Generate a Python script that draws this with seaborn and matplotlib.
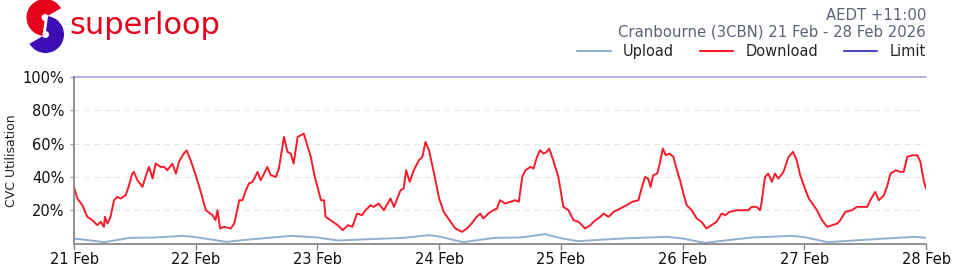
import numpy as np
import pandas as pd
import matplotlib
matplotlib.use("Agg")
import matplotlib.pyplot as plt
from matplotlib.patches import Wedge
import seaborn as sns

# ---------------- data ----------------
day_labels = ["21 Feb", "22 Feb", "23 Feb", "24 Feb", "25 Feb", "26 Feb", "27 Feb", "28 Feb"]
y_tick_values = [20, 40, 60, 80, 100]
y_tick_labels = ["20%", "40%", "60%", "80%", "100%"]

# hours since 21 Feb 00:00 and utilisation (%)
download_hours = [
    0, 0.66, 1.64, 2.63, 3.62, 4.6, 5.26, 5.9, 6.1, 6.6, 7.2, 7.9, 8.55, 9.2, 10.2, 10.85, 11.5, 11.8,
    12.5, 13.5, 14.1, 14.8, 15.5, 16.1, 17.1, 17.8, 18.4, 19.4, 20.1, 20.7, 21.4, 22.2, 23.0,
    24.0, 25.0, 26.0, 27.3, 27.9, 28.3, 28.8, 29.6, 30.9, 31.6, 32.6, 33.2, 33.9, 34.5, 35.2, 36.2,
    36.8, 37.5, 38.1, 38.8, 39.8, 40.4, 41.4, 42.1, 42.75, 43.3, 44.1, 44.7, 45.3, 46.1, 46.7, 47.4,
    48.0, 48.7, 49.3, 49.6, 50.6, 52.0, 53.0, 54.0, 54.9, 55.8, 56.8, 57.5, 58.5, 59.1, 60.1, 61.1,
    62.4, 63.1, 64.4, 65.0, 65.5, 66.2, 67.0, 68.0, 68.7, 69.3, 70.0, 71.0,
    72.0, 72.9, 73.8, 75.2, 76.5, 77.5, 78.4, 79.4, 80.1, 80.7, 81.7, 82.7, 83.4, 84.0, 85.0, 86.0,
    87.0, 87.7, 88.4, 89.0, 90.0, 90.6, 91.3, 91.9, 92.6, 93.2, 93.7, 94.5, 95.5,
    96.0, 96.5, 97.5, 98.5, 99.5, 100.8, 101.8, 102.8, 103.8, 104.4, 105.4, 106.4, 107.7, 109.0,
    110.0, 111.3, 111.9, 112.6, 113.2, 113.7, 114.2, 115.0, 115.5, 116.1, 116.7, 117.4, 118.2,
    118.8, 119.5,
    120.0, 120.8, 121.8, 122.8, 123.75, 124.7, 125.7, 126.7, 127.7, 128.4, 129.3, 130.7, 132.0,
    133.0, 133.6, 134.6, 135.3, 135.6, 136.25, 136.9, 137.6, 138.2, 138.9, 139.9, 140.9, 141.8,
    142.5, 143.2,
    144.0, 144.9, 145.8, 146.5, 147.5, 148.5, 149.5, 150.5, 151.1, 152.1, 153.4, 154.4, 155.4,
    156.4, 157.0, 158.0, 158.7, 159.7, 160.4, 161.0, 162.0, 163.0, 163.6, 164.3, 165.3, 166.3,
    166.9, 167.6, 168.0,
]
download_pct = [
    34, 27, 23, 16, 14, 11, 13, 10, 16, 12, 16, 26, 28, 27, 29, 35, 42, 43,
    38, 34, 40, 46, 39, 48, 46, 46, 44, 48, 42, 49, 53, 56, 50,
    41, 31, 20, 17, 14, 20, 9, 10, 9, 12, 26, 26, 32, 36, 37, 43,
    38, 42, 46, 41, 40, 45, 64, 55, 54, 48, 64, 65, 66, 58, 52, 41,
    34, 26, 26, 16, 14, 11, 8, 11, 10, 18, 17, 20, 23, 22, 24, 20,
    27, 22, 32, 33, 44, 37, 44, 50, 52, 61, 56, 42,
    27, 19, 15, 9, 7, 9, 12, 16, 18, 15, 18, 20, 21, 26, 24, 25,
    26, 25, 40, 44, 46, 45, 52, 56, 54, 55, 57, 50, 40,
    31, 22, 20, 14, 13, 9, 11, 14, 16, 18, 16, 19, 21, 23,
    25, 26, 33, 40, 39, 34, 41, 42, 48, 57, 53, 54, 52,
    45, 38,
    32, 23, 20, 15, 13, 9, 11, 13, 18, 17, 19, 20, 20,
    20, 22, 22, 20, 25, 40, 42, 37, 42, 39, 43, 52, 55,
    50, 41,
    34, 27, 23, 20, 14, 10, 11, 12, 14, 19, 20, 22, 22,
    22, 26, 31, 26, 29, 35, 42, 44, 43, 43, 52, 53, 53,
    49, 37, 33,
]

upload_hours = [0, 6, 11, 16, 21.5, 24, 30, 36, 43, 48, 52, 60, 65, 70, 72, 76.7, 83, 88, 92.9,
                96, 99.3, 108, 117, 120, 124.3, 133.6, 141.6, 144, 148.6, 160, 165.9, 168]
upload_pct = [3.0, 0.8, 3.4, 3.6, 4.6, 3.8, 1.0, 2.8, 4.6, 3.6, 1.8, 2.8, 3.4, 5.0, 4.2, 0.8, 3.4,
              3.6, 5.6, 3.2, 1.4, 3.0, 4.0, 3.0, 0.4, 3.6, 4.6, 3.8, 0.8, 3.0, 4.0, 3.4]

limit_hours = [0, 168]
limit_pct = [100, 100]

series_names = ["Upload", "Download", "Limit"]
series_colors = ["#8fb0d2", "#f51d2b", "#4a4ac8"]

header_tz = "AEDT +11:00"
header_title = "Cranbourne (3CBN) 21 Feb - 28 Feb 2026"
brand = "superloop"
y_label = "CVC Utilisation"

# ---------------- frame ----------------
df = pd.concat([
    pd.DataFrame({"hours": upload_hours, "pct": upload_pct, "series": "Upload"}),
    pd.DataFrame({"hours": download_hours, "pct": download_pct, "series": "Download"}),
    pd.DataFrame({"hours": limit_hours, "pct": limit_pct, "series": "Limit"}),
], ignore_index=True)

sns.set_theme(style="white")
plt.rcParams["font.family"] = ["DejaVu Sans"]

W, H = 960, 274
fig = plt.figure(figsize=(W / 100, H / 100), dpi=100)
ax = fig.add_axes([74 / W, 1 - 243.5 / H, (926 - 74) / W, (243.5 - 77) / H])

sns.lineplot(data=df, x="hours", y="pct", hue="series", hue_order=series_names,
             palette=dict(zip(series_names, series_colors)), ax=ax, estimator=None,
             sort=False, legend=True)
for line, lw in zip(ax.lines, [1.4, 1.4, 1.2]):
    line.set_linewidth(lw)

ax.set_xlim(0, 168)
ax.set_ylim(0, 100)
ax.set_xticks(np.arange(0, 169, 24))
ax.set_xticklabels(day_labels)
ax.set_yticks(y_tick_values)
ax.set_yticklabels(y_tick_labels)
ax.set_xlabel("")
ax.set_ylabel(y_label, fontsize=9, labelpad=3, color="#222222")
ax.tick_params(axis="x", labelsize=10.5, length=4, width=1, color="#888888", pad=2,
               labelcolor="#111111", bottom=True)
ax.tick_params(axis="y", labelsize=10.5, length=3, width=1, color="#aaaaaa", pad=4,
               labelcolor="#111111", left=True)
for v in y_tick_values[:-1]:
    ax.axhline(v, color="#e6e6e6", lw=0.8, ls=(0, (5, 4)), zorder=0)
for s in ["top", "right"]:
    ax.spines[s].set_visible(False)
for s in ["left", "bottom"]:
    ax.spines[s].set_color("#888888")
    ax.spines[s].set_linewidth(1.3)

sns.move_legend(ax, "lower right", bbox_to_anchor=(1.0, 1.11), ncol=3, title=None,
                frameon=False, fontsize=10.5, handlelength=2.3, handletextpad=0.85,
                columnspacing=1.75, borderpad=0, borderaxespad=0)

# the limit line itself is drawn lighter than its legend swatch
ax.lines[2].set_alpha(0.5)
ax.lines[2].set_clip_on(False)

# ---------------- header ----------------
ov = fig.add_axes([0, 0, 1, 1], zorder=5)
ov.set_xlim(0, W)
ov.set_ylim(H, 0)
ov.axis("off")
ov.patch.set_alpha(0)
ov.text(926, 20, header_tz, ha="right", va="baseline", fontsize=10.7, color="#5b6376")
ov.text(926, 36.5, header_title, ha="right", va="baseline", fontsize=10.7, color="#5b6376")

# logo (y axis inverted, so screen angles are negated)
ov.add_patch(Wedge((45, 17.5), 18.5, -262, -30, width=15, color="#e5001c", lw=0))
ov.add_patch(Wedge((45.5, 34.5), 18.5, -82, 150, width=15, color="#3c0cb4", lw=0))
ov.text(69, 34, brand, ha="left", va="baseline", fontsize=22, color="#e5001c")

fig.savefig("out.png", dpi=100)
